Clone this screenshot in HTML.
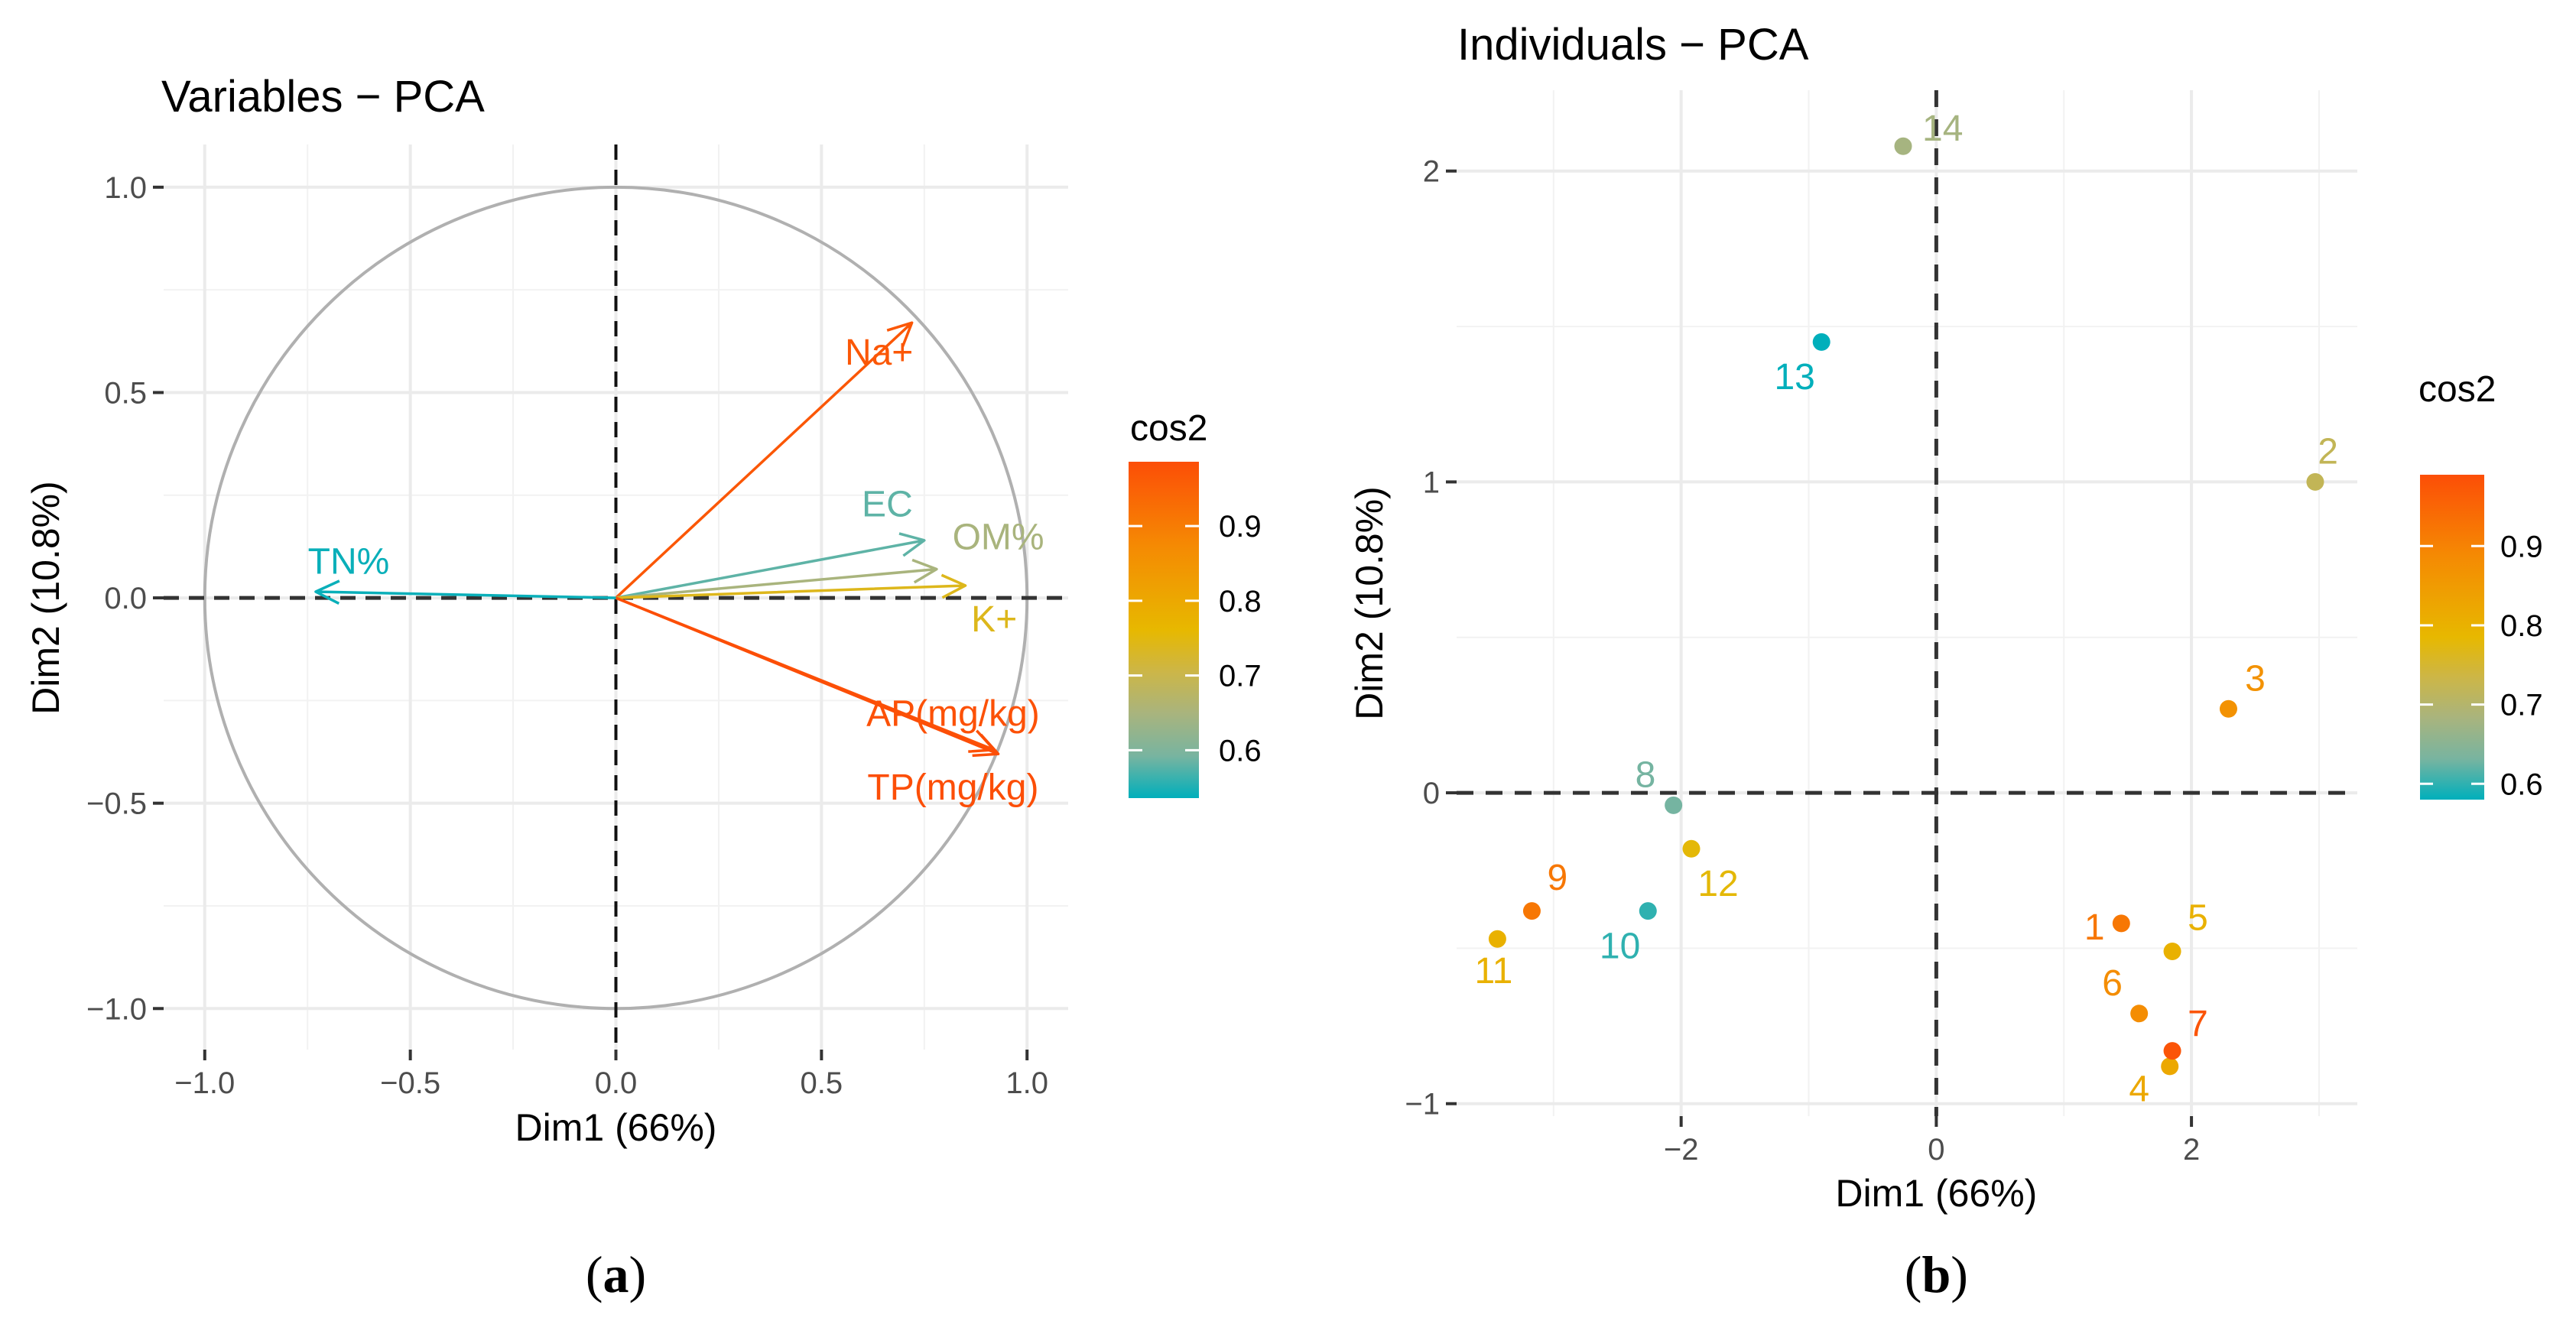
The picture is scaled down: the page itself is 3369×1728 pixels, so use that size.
<!DOCTYPE html>
<html><head><meta charset="utf-8"><style>
html,body{margin:0;padding:0;background:#fff;}
svg{display:block;font-family:"Liberation Sans",sans-serif;}
</style></head><body>
<svg id="fig" width="3369" height="1728" viewBox="0 0 3369 1728" xmlns="http://www.w3.org/2000/svg">
<defs>
<linearGradient id="gradA" x1="0" y1="1" x2="0" y2="0">
<stop offset="0" stop-color="#00AFBB"/><stop offset="0.125" stop-color="#78B4A0"/><stop offset="0.25" stop-color="#A8B47E"/><stop offset="0.375" stop-color="#CCB648"/><stop offset="0.5" stop-color="#E7B800"/><stop offset="0.75" stop-color="#F58A03"/><stop offset="1" stop-color="#FC4E07"/>
</linearGradient>
</defs>
<g id="panelA"></g>
<g id="panelB"></g>
</svg>
<script>
// ---- Panel A data (variables) ----
const varNames = ["Na+","EC","OM%","K+","AP(mg/kg)","TP(mg/kg)","TN%"];
const varDim1 = [0.72,0.75,0.78,0.85,0.92,0.93,-0.73];
const varDim2 = [0.67,0.14,0.07,0.03,-0.37,-0.38,0.015];
const varCos2 = [0.97,0.58,0.65,0.74,0.98,0.99,0.54];
const varLabelX = [0.64,0.66,0.93,0.92,0.82,0.82,-0.65];
const varLabelY = [0.60,0.23,0.15,-0.05,-0.28,-0.46,0.09];
const aTicks = [-1.0,-0.5,0.0,0.5,1.0];
const aTickLabels = ["\u22121.0","\u22120.5","0.0","0.5","1.0"];
const aLegendTicks = [0.6,0.7,0.8,0.9];
// ---- Panel B data (individuals) ----
const indNames = ["1","2","3","4","5","6","7","8","9","10","11","12","13","14"];
const indDim1 = [1.45,2.97,2.29,1.83,1.85,1.59,1.85,-2.06,-3.17,-2.26,-3.44,-1.92,-0.9,-0.26];
const indDim2 = [-0.42,1.0,0.27,-0.88,-0.51,-0.71,-0.83,-0.04,-0.38,-0.38,-0.47,-0.18,1.45,2.08];
const indCos2 = [0.92,0.72,0.87,0.82,0.80,0.88,0.98,0.63,0.92,0.60,0.80,0.78,0.56,0.68];
const indLabelX = [1.24,3.07,2.5,1.59,2.05,1.38,2.05,-2.28,-2.97,-2.48,-3.47,-1.71,-1.11,0.05];
const indLabelY = [-0.43,1.1,0.37,-0.95,-0.4,-0.61,-0.74,0.06,-0.27,-0.49,-0.57,-0.29,1.34,2.14];
const bXTicks = [-2,0,2];
const bXTickLabels = ["\u22122","0","2"];
const bYTicks = [-1,0,1,2];
const bYTickLabels = ["\u22121","0","1","2"];
const bLegendTicks = [0.6,0.7,0.8,0.9];

const NS="http://www.w3.org/2000/svg";
const gradStops=[[0,"#00AFBB"],[0.125,"#78B4A0"],[0.25,"#A8B47E"],[0.375,"#CCB648"],[0.5,"#E7B800"],[0.75,"#F58A03"],[1,"#FC4E07"]];
function mk(parent, tag, attrs, text){
  const e=document.createElementNS(NS,tag);
  for(const k in attrs) e.setAttribute(k,attrs[k]);
  if(text!==undefined) e.textContent=text;
  parent.appendChild(e); return e;
}
function hex(c){return [parseInt(c.slice(1,3),16),parseInt(c.slice(3,5),16),parseInt(c.slice(5,7),16)];}
function lerp(a,b,t){const A=hex(a),B=hex(b);return "rgb("+A.map((v,i)=>Math.round(v+(B[i]-v)*t)).join(",")+")";}
function colorFor(v,lo,hi){
  let t=(v-lo)/(hi-lo); t=Math.max(0,Math.min(1,t));
  for(let i=0;i<gradStops.length-1;i++){
    const a=gradStops[i],b=gradStops[i+1];
    if(t<=b[0]) return lerp(a[1],b[1],(t-a[0])/(b[0]-a[0]));
  }
  return gradStops[gradStops.length-1][1];
}

// ================= Panel A =================
(function(){
  const g=document.getElementById('panelA');
  const X0=214,X1=1397,Y0=189,Y1=1373, xmin=-1.1,xmax=1.1,ymin=-1.1,ymax=1.104;
  const sx=v=>X0+(v-xmin)/(xmax-xmin)*(X1-X0);
  const sy=v=>Y1-(v-ymin)/(ymax-ymin)*(Y1-Y0);
  const lo=0.536,hi=0.986;
  [-0.75,-0.25,0.25,0.75].forEach(v=>{
    let l=mk(g,'line',{x1:sx(v),x2:sx(v),y1:Y0,y2:Y1,stroke:'#f2f2f2','stroke-width':2});
    
    
    l=mk(g,'line',{x1:X0,x2:X1,y1:sy(v),y2:sy(v),stroke:'#f2f2f2','stroke-width':2});
    
    
  });
  aTicks.forEach((v,i)=>{
    let l=mk(g,'line',{x1:sx(v),x2:sx(v),y1:Y0,y2:Y1,stroke:'#ebebeb','stroke-width':4});
    
    
    l=mk(g,'line',{x1:X0,x2:X1,y1:sy(v),y2:sy(v),stroke:'#ebebeb','stroke-width':4});
    
    
    l=mk(g,'line',{x1:sx(v),x2:sx(v),y1:Y1,y2:Y1+14,stroke:'#333','stroke-width':4});
    
    
    l=mk(g,'line',{x1:X0-14,x2:X0,y1:sy(v),y2:sy(v),stroke:'#333','stroke-width':4});
    
    
    let t=mk(g,'text',{x:sx(v),y:Y1+57,'text-anchor':'middle','font-size':40,fill:'#4d4d4d'},aTickLabels[i]);
    
    
    t=mk(g,'text',{x:X0-22,y:sy(v)+14,'text-anchor':'end','font-size':40,fill:'#4d4d4d'},aTickLabels[i]);
    
    
  });
  let c=mk(g,'ellipse',{cx:sx(0),cy:sy(0),rx:sx(1)-sx(0),ry:sy(0)-sy(1),fill:'none',stroke:'#b0b0b0','stroke-width':4});
  
  
  let d=mk(g,'line',{x1:X0,x2:X1,y1:sy(0),y2:sy(0),stroke:'#333','stroke-width':5,'stroke-dasharray':'20 13'});
  
  
  d=mk(g,'line',{x1:sx(0),x2:sx(0),y1:Y0,y2:Y1,stroke:'#111','stroke-width':4,'stroke-dasharray':'20 13'});
  
  
  varNames.forEach((n,i)=>{
    const col=colorFor(varCos2[i],lo,hi);
    const x1=sx(varDim1[i]),y1=sy(varDim2[i]),x0=sx(0),y0=sy(0);
    const ang=Math.atan2(y1-y0,x1-x0),L=34,sp=0.45;
    const p=`M${x0},${y0}L${x1},${y1}M${x1-L*Math.cos(ang-sp)},${y1-L*Math.sin(ang-sp)}L${x1},${y1}L${x1-L*Math.cos(ang+sp)},${y1-L*Math.sin(ang+sp)}`;
    const a=mk(g,'path',{d:p,fill:'none',stroke:col,'stroke-width':3.5,'stroke-linejoin':'round'});
    
    
  });
  varNames.forEach((n,i)=>{
    const col=colorFor(varCos2[i],lo,hi);
    const t=mk(g,'text',{x:sx(varLabelX[i]),y:sy(varLabelY[i])+17,'text-anchor':'middle','font-size':48,fill:col},n);
    
    
  });
  let t=mk(g,'text',{x:211,y:146,'font-size':58,fill:'#000'},'Variables \u2212 PCA');
  
  
  t=mk(g,'text',{x:sx(0),y:1492,'text-anchor':'middle','font-size':50,fill:'#000'},'Dim1 (66%)');
  
  
  t=mk(g,'text',{x:0,y:0,'text-anchor':'middle','font-size':50,fill:'#000',transform:`translate(77,${sy(0)}) rotate(-90)`},'Dim2 (10.8%)');
  
  
  const LX=1476,LW=92,LT=604,LB=1044;
  t=mk(g,'text',{x:1478,y:576,'font-size':48,fill:'#000'},'cos2');
  
  
  let r=mk(g,'rect',{x:LX,y:LT,width:LW,height:LB-LT,fill:'url(#gradA)'});
  
  
  aLegendTicks.forEach(v=>{
    const y=LB-(v-lo)/(hi-lo)*(LB-LT);
    let l=mk(g,'line',{x1:LX,x2:LX+18,y1:y,y2:y,stroke:'#fff','stroke-width':3});
    
    
    l=mk(g,'line',{x1:LX+LW-18,x2:LX+LW,y1:y,y2:y,stroke:'#fff','stroke-width':3});
    
    
    const tt=mk(g,'text',{x:1594,y:y+14,'font-size':40,fill:'#000'},v.toFixed(1));
    
    
  });
  t=mk(g,'text',{x:sx(0),y:1690,'text-anchor':'middle','font-size':68,fill:'#000','font-family':'Liberation Serif, serif'},'');
  
  
  mk(t,'tspan',{},'(');
  mk(t,'tspan',{'font-weight':'bold'},'a');
  mk(t,'tspan',{},')');
})();

// ================= Panel B =================
(function(){
  const g=document.getElementById('panelB');
  const X0=1905,X1=3083,Y0=118,Y1=1460,xmin=-3.76,xmax=3.3,ymin=-1.04,ymax=2.26;
  const sx=v=>X0+(v-xmin)/(xmax-xmin)*(X1-X0);
  const sy=v=>Y1-(v-ymin)/(ymax-ymin)*(Y1-Y0);
  const lo=0.58,hi=0.99;
  [-3,-1,1,3].forEach(v=>{
    const l=mk(g,'line',{x1:sx(v),x2:sx(v),y1:Y0,y2:Y1,stroke:'#f2f2f2','stroke-width':2});
    
    
  });
  [-0.5,0.5,1.5].forEach(v=>{
    const l=mk(g,'line',{x1:X0,x2:X1,y1:sy(v),y2:sy(v),stroke:'#f2f2f2','stroke-width':2});
    
    
  });
  bXTicks.forEach((v,i)=>{
    let l=mk(g,'line',{x1:sx(v),x2:sx(v),y1:Y0,y2:Y1,stroke:'#ebebeb','stroke-width':4});
    
    
    l=mk(g,'line',{x1:sx(v),x2:sx(v),y1:Y1,y2:Y1+14,stroke:'#333','stroke-width':4});
    
    
    const t=mk(g,'text',{x:sx(v),y:Y1+57,'text-anchor':'middle','font-size':40,fill:'#4d4d4d'},bXTickLabels[i]);
    
    
  });
  bYTicks.forEach((v,i)=>{
    let l=mk(g,'line',{x1:X0,x2:X1,y1:sy(v),y2:sy(v),stroke:'#ebebeb','stroke-width':4});
    
    
    l=mk(g,'line',{x1:X0-14,x2:X0,y1:sy(v),y2:sy(v),stroke:'#333','stroke-width':4});
    
    
    const t=mk(g,'text',{x:X0-22,y:sy(v)+14,'text-anchor':'end','font-size':40,fill:'#4d4d4d'},bYTickLabels[i]);
    
    
  });
  let d=mk(g,'line',{x1:X0,x2:X1,y1:sy(0),y2:sy(0),stroke:'#333','stroke-width':5,'stroke-dasharray':'22 16'});
  
  
  d=mk(g,'line',{x1:sx(0),x2:sx(0),y1:Y0,y2:Y1,stroke:'#333','stroke-width':5,'stroke-dasharray':'22 16'});
  
  
  indNames.forEach((n,i)=>{
    const col=colorFor(indCos2[i],lo,hi);
    const p=mk(g,'circle',{cx:sx(indDim1[i]),cy:sy(indDim2[i]),r:11.5,fill:col});
    
    
    const t=mk(g,'text',{x:sx(indLabelX[i]),y:sy(indLabelY[i])+17,'text-anchor':'middle','font-size':48,fill:col},n);
    
    
  });
  let t=mk(g,'text',{x:1906,y:78,'font-size':58,fill:'#000'},'Individuals \u2212 PCA');
  
  
  t=mk(g,'text',{x:sx(0),y:1578,'text-anchor':'middle','font-size':50,fill:'#000'},'Dim1 (66%)');
  
  
  t=mk(g,'text',{x:0,y:0,'text-anchor':'middle','font-size':50,fill:'#000',transform:`translate(1808,${(Y0+Y1)/2}) rotate(-90)`},'Dim2 (10.8%)');
  
  
  const LX=3165,LW=84,LT=621,LB=1046;
  t=mk(g,'text',{x:3163,y:525,'font-size':48,fill:'#000'},'cos2');
  
  
  let r=mk(g,'rect',{x:LX,y:LT,width:LW,height:LB-LT,fill:'url(#gradA)'});
  
  
  bLegendTicks.forEach(v=>{
    const y=LB-(v-lo)/(hi-lo)*(LB-LT);
    let l=mk(g,'line',{x1:LX,x2:LX+17,y1:y,y2:y,stroke:'#fff','stroke-width':3});
    
    
    l=mk(g,'line',{x1:LX+LW-17,x2:LX+LW,y1:y,y2:y,stroke:'#fff','stroke-width':3});
    
    
    const tt=mk(g,'text',{x:3270,y:y+14,'font-size':40,fill:'#000'},v.toFixed(1));
    
    
  });
  t=mk(g,'text',{x:sx(0),y:1690,'text-anchor':'middle','font-size':68,fill:'#000','font-family':'Liberation Serif, serif'},'');
  
  
  mk(t,'tspan',{},'(');
  mk(t,'tspan',{'font-weight':'bold'},'b');
  mk(t,'tspan',{},')');
})();
</script>
</body></html>
